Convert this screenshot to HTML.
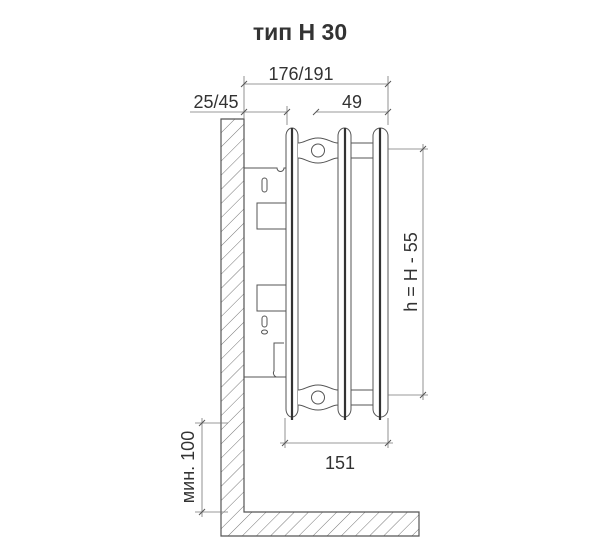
<!DOCTYPE html>
<html><head><meta charset="utf-8"><style>
html,body{margin:0;padding:0;background:#fff;}
svg{display:block;}
text{font-family:"Liberation Sans","DejaVu Sans",sans-serif;fill:#333;}
</style></head><body>
<svg width="600" height="544" viewBox="0 0 600 544">
<defs>
<pattern id="h" width="10" height="10" patternUnits="userSpaceOnUse" patternTransform="rotate(45)">
<line x1="0" y1="0" x2="0" y2="10" stroke="#666" stroke-width="0.9"/>
</pattern>
</defs>
<text x="300" y="40" font-size="23" font-weight="bold" text-anchor="middle" fill="#222">тип H 30</text>

<path d="M221 119 H244 V512 H419 V536 H221 Z" fill="url(#h)" stroke="#555" stroke-width="1.2"/>

<g stroke="#555" stroke-width="1" fill="none">
<path d="M244 168 H277 a2 2 0 0 0 7 0 H286 V377 H278 a4 4 0 0 1 -4 -6 V343 H284"/>
<path d="M244 377 H278"/>
<rect x="262" y="178" width="5" height="14" rx="2.5"/>
<path d="M286 203 H257 V229 H286"/>
<path d="M286 285 H257 V311 H286"/>
<rect x="262" y="316" width="5" height="11" rx="2.5"/>
<ellipse cx="264.5" cy="332" rx="3" ry="2"/>
<path d="M286 136 a6 8 0 0 1 12 0 V409 a6 8 0 0 1 -12 0 Z" fill="#fff"/>
<path d="M338 136 a6.5 8 0 0 1 13 0 V409 a6.5 8 0 0 1 -13 0 Z" fill="#fff"/>
<path d="M373 136 a7.5 8 0 0 1 15 0 V409 a7.5 8 0 0 1 -15 0 Z" fill="#fff"/>
<path d="M298 143 C305 143 308 138 318 138 C328 138 331 143 338 143 V158 C331 158 328 163 318 163 C308 163 305 158 298 158" fill="#fff"/>
<circle cx="318" cy="150.5" r="6.5"/>
<path d="M298 390 C305 390 308 385 318 385 C328 385 331 390 338 390 V405 C331 405 328 410 318 410 C308 410 305 405 298 405" fill="#fff"/>
<circle cx="318" cy="397.5" r="6.5"/>
<line x1="351" y1="143" x2="373" y2="143"/><line x1="351" y1="158" x2="373" y2="158"/>
<line x1="351" y1="390" x2="373" y2="390"/><line x1="351" y1="405" x2="373" y2="405"/>
</g>
<g stroke="#333" stroke-width="2.2">
<line x1="292" y1="128" x2="292" y2="420"/>
<line x1="345" y1="128" x2="345" y2="420"/>
<line x1="380" y1="128" x2="380" y2="420"/>
</g>

<g stroke="#777" stroke-width="0.8" fill="none">
<line x1="244" y1="76" x2="244" y2="119"/>
<line x1="388" y1="76" x2="388" y2="125"/>
<line x1="244" y1="84" x2="388" y2="84"/>
<line x1="190" y1="112" x2="287" y2="112"/>
<line x1="287" y1="106" x2="287" y2="125"/>
<line x1="316" y1="112" x2="388" y2="112"/>
<line x1="388" y1="149" x2="428" y2="149"/>
<line x1="388" y1="395" x2="428" y2="395"/>
<line x1="423" y1="144" x2="423" y2="400"/>
<line x1="285" y1="418" x2="285" y2="448"/>
<line x1="388" y1="418" x2="388" y2="448"/>
<line x1="280" y1="443" x2="393" y2="443"/>
<line x1="195" y1="423" x2="228" y2="423"/>
<line x1="195" y1="512" x2="228" y2="512"/>
<line x1="202" y1="418" x2="202" y2="517"/>
</g>
<g stroke="#555" stroke-width="1">
<line x1="241" y1="87" x2="247" y2="81"/><line x1="385" y1="87" x2="391" y2="81"/>
<line x1="241" y1="115" x2="247" y2="109"/><line x1="284" y1="115" x2="290" y2="109"/>
<line x1="313" y1="115" x2="319" y2="109"/><line x1="385" y1="115" x2="391" y2="109"/>
<line x1="420" y1="152" x2="426" y2="146"/><line x1="420" y1="398" x2="426" y2="392"/>
<line x1="282" y1="446" x2="288" y2="440"/><line x1="385" y1="446" x2="391" y2="440"/>
<line x1="199" y1="426" x2="205" y2="420"/><line x1="199" y1="515" x2="205" y2="509"/>
</g>
<text x="301" y="80" font-size="18" text-anchor="middle">176/191</text>
<text x="216" y="108" font-size="18" text-anchor="middle">25/45</text>
<text x="352" y="108" font-size="18" text-anchor="middle">49</text>
<text x="340" y="469" font-size="18" text-anchor="middle">151</text>
<text transform="translate(417 272) rotate(-90)" font-size="18" text-anchor="middle">h = H - 55</text>
<text transform="translate(194 467) rotate(-90)" font-size="18" text-anchor="middle">мин. 100</text>
</svg>
</body></html>
